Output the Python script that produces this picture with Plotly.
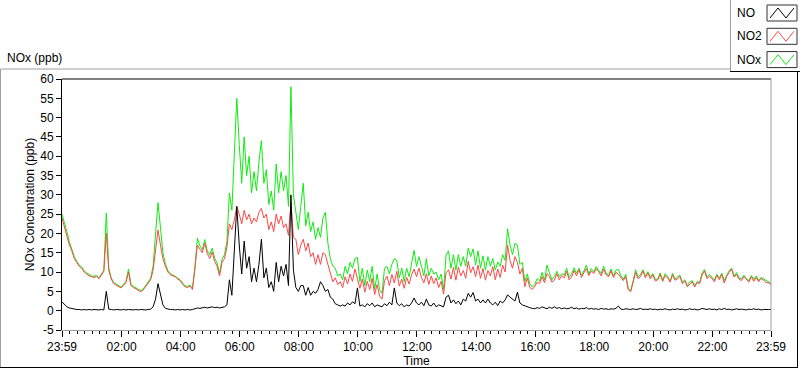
import pandas as pd
import plotly.graph_objects as go

# ---------------- data (5-minute samples, starting 23:59) ----------------
start_time = "2000-01-01 23:59"
n_samples = 289
step = "5min"

no2_ppb = [
    24.0, 21.5, 19.5, 17.0, 15.5, 13.5, 12.5, 11.5, 11.0, 10.0, 9.5, 9.0,
    8.8, 8.6, 8.9, 8.3, 9.2, 10.2, 20.0, 10.5, 8.2, 7.0, 6.6, 6.2,
    5.9, 6.5, 7.3, 10.0, 6.5, 6.0, 5.6, 5.2, 4.9, 5.4, 6.3, 7.0,
    8.0, 10.5, 16.0, 20.9, 17.0, 13.5, 11.5, 10.0, 9.3, 9.0, 8.8, 8.2,
    7.8, 6.8, 6.2, 6.0, 6.4, 5.5, 10.5, 17.0, 16.0, 15.0, 17.5, 14.8,
    13.5, 15.2, 12.8, 11.5, 9.0, 12.5, 13.5, 16.5, 22.5, 21.0, 23.5, 27.0,
    25.0, 22.5, 26.0, 23.5, 25.0, 22.5, 24.0, 23.0, 25.5, 26.5, 24.0, 25.0,
    21.0, 23.0, 20.5, 25.0, 22.5, 24.5, 21.5, 22.5, 19.5, 28.0, 19.0, 18.5,
    14.5, 17.0, 18.5, 15.5, 17.5, 14.0, 15.0, 12.0, 14.5, 12.0, 15.0, 14.5,
    12.0, 9.5, 7.5, 8.5, 6.8, 7.5, 6.0, 8.8, 6.9, 9.5, 7.6, 10.8,
    8.5, 5.8, 8.2, 4.8, 7.6, 5.5, 8.4, 4.2, 6.8, 3.8, 3.0, 7.8,
    8.9, 6.5, 9.4, 7.2, 10.2, 6.4, 8.2, 5.8, 8.6, 6.9, 9.3, 10.8,
    8.8, 11.0, 8.6, 7.2, 9.6, 6.8, 9.0, 7.0, 8.5, 6.0, 7.6, 4.3,
    9.8, 10.6, 8.2, 11.2, 7.9, 11.3, 9.0, 10.4, 8.4, 12.8, 9.8, 11.4,
    8.8, 11.8, 8.4, 10.9, 7.9, 10.4, 9.0, 11.4, 8.0, 10.8, 8.6, 11.8,
    10.0, 17.0, 13.0, 11.0, 14.0, 12.5, 9.5, 11.0, 6.2, 8.5, 6.0, 5.5,
    6.2, 7.4, 7.0, 8.8, 7.2, 9.6, 8.9, 7.4, 7.9, 9.6, 8.0, 9.1,
    8.5, 10.2, 8.0, 8.7, 10.4, 9.0, 10.6, 8.6, 9.8, 10.9, 9.1, 10.3,
    9.6, 10.9, 10.1, 9.0, 10.8, 9.3, 8.8, 10.3, 8.6, 9.9, 9.5, 8.7,
    7.8, 8.9, 5.4, 4.9, 7.2, 9.9, 8.3, 8.8, 10.3, 8.5, 9.8, 8.2,
    9.3, 7.7, 8.0, 9.4, 7.6, 9.1, 8.6, 7.4, 9.3, 7.9, 8.2, 8.9,
    7.0, 7.8, 6.2, 6.9, 7.5, 6.1, 7.3, 7.0, 9.2, 10.3, 8.3, 8.9,
    8.4, 7.5, 9.2, 8.0, 9.4, 7.2, 8.9, 9.9, 10.8, 8.7, 9.4, 8.2,
    7.8, 8.9, 8.1, 7.4, 8.8, 7.6, 8.6, 7.5, 8.4, 7.9, 7.3, 7.2,
    6.8,
]

no_ppb = [
    2.3, 1.6, 1.0, 0.7, 0.5, 0.4, 0.3, 0.3, 0.2, 0.3, 0.2, 0.3,
    0.2, 0.3, 0.2, 0.2, 0.3, 0.2, 5.0, 0.4, 0.3, 0.2, 0.3, 0.2,
    0.2, 0.3, 0.2, 0.3, 0.2, 0.2, 0.3, 0.2, 0.3, 0.2, 0.2, 0.3,
    0.4, 1.0, 3.0, 7.0, 4.5, 1.5, 0.6, 0.4, 0.3, 0.3, 0.2, 0.3,
    0.2, 0.3, 0.2, 0.3, 0.2, 0.3, 0.5, 0.7, 0.6, 0.8, 0.9, 0.7,
    0.9, 1.0, 0.8, 0.9, 0.7, 0.8, 1.0, 1.5, 8.0, 4.0, 15.0, 27.0,
    17.0, 9.5, 18.0, 11.0, 14.0, 7.5, 11.0, 7.5, 12.0, 18.5, 8.5, 11.0,
    6.0, 7.5, 5.0, 12.5, 7.5, 11.5, 9.0, 12.0, 6.5, 30.0, 10.5, 6.0,
    5.0, 6.5, 6.5, 4.0, 6.0, 4.0, 5.0, 4.5, 5.5, 7.5, 6.5, 5.0,
    5.5, 3.5, 3.0, 1.8, 1.5, 1.2, 1.5, 1.2, 2.0, 1.5, 2.3, 1.8,
    5.9, 1.2, 1.5, 1.0, 1.8, 1.3, 2.0, 1.0, 1.5, 1.2, 1.0, 1.8,
    1.3, 2.2, 1.5, 5.9, 2.0, 1.3, 1.8, 1.0, 1.5, 1.2, 2.0, 3.3,
    2.0, 1.5, 2.2, 1.3, 3.0, 1.5, 1.2, 2.0, 1.0, 1.5, 1.2, 1.0,
    3.5, 4.0, 2.0, 2.8, 1.8, 2.5, 1.5, 3.0, 2.5, 4.5, 3.5, 4.7,
    2.5, 3.0, 2.0, 2.8, 2.0, 3.0, 2.0, 1.5, 2.2, 1.3, 2.5, 2.0,
    2.8, 4.1, 3.5, 3.0, 2.5, 4.8, 2.0, 1.5, 1.2, 1.0, 0.8, 0.6,
    0.5, 0.8, 0.6, 1.0, 0.7, 0.5, 0.9, 0.6, 1.0, 0.6, 0.8, 0.5,
    0.7, 0.5, 0.6, 0.9, 0.5, 0.7, 0.4, 0.6, 0.5, 0.8, 0.4, 0.6,
    0.4, 0.5, 0.3, 0.6, 0.4, 0.5, 0.3, 0.5, 0.4, 0.6, 1.2, 0.4,
    0.3, 0.5, 0.4, 0.3, 0.5, 0.3, 0.4, 0.6, 0.3, 0.4, 0.3, 0.5,
    0.3, 0.4, 0.2, 0.4, 0.3, 0.5, 0.3, 0.2, 0.4, 0.3, 0.5, 0.3,
    0.4, 0.2, 0.3, 0.5, 0.3, 0.4, 0.2, 0.3, 0.6, 0.4, 0.3, 0.5,
    0.3, 0.4, 0.2, 0.5, 0.3, 0.6, 0.3, 0.4, 0.2, 0.3, 0.5, 0.3,
    0.4, 0.3, 0.2, 0.4, 0.3, 0.5, 0.3, 0.4, 0.2, 0.3, 0.4, 0.3,
    0.3,
]

nox_ppb = [
    25.0, 23.0, 20.5, 17.8, 16.0, 14.0, 12.8, 11.8, 11.3, 10.3, 9.8, 9.3,
    9.0, 8.9, 9.1, 8.5, 9.5, 10.5, 25.3, 11.0, 8.5, 7.3, 6.9, 6.4,
    6.1, 6.8, 7.6, 10.8, 6.8, 6.3, 5.9, 5.4, 5.2, 5.6, 6.5, 7.3,
    8.4, 11.5, 19.0, 28.0, 21.5, 15.0, 12.1, 10.4, 9.6, 9.3, 9.0, 8.5,
    8.0, 7.1, 6.4, 6.3, 6.6, 5.8, 11.0, 18.8, 16.8, 15.8, 18.4, 15.5,
    14.4, 16.2, 13.6, 12.4, 9.7, 13.3, 14.5, 18.0, 30.5, 26.0, 39.0, 55.0,
    43.0, 33.0, 45.0, 35.0, 40.0, 30.5, 36.0, 31.0, 38.5, 44.0, 33.0, 36.5,
    27.5, 31.0, 26.0, 38.0, 30.5, 36.0, 31.0, 35.0, 27.0, 58.0, 30.0, 25.0,
    21.0, 27.0, 33.0, 22.0, 25.5, 20.5, 23.0, 18.5, 21.5, 19.0, 24.0, 25.5,
    17.5, 13.5, 11.5, 11.0, 9.0, 9.5, 8.0, 11.5, 9.5, 12.5, 11.0, 13.5,
    13.8, 7.5, 11.0, 6.5, 10.5, 7.5, 11.5, 5.5, 9.5, 5.5, 4.5, 11.0,
    11.5, 9.5, 12.0, 13.5, 13.0, 8.5, 11.0, 7.5, 11.0, 8.8, 12.5, 15.6,
    11.5, 14.0, 11.5, 9.0, 13.5, 9.0, 11.0, 9.5, 10.0, 8.0, 9.5, 5.5,
    14.4, 15.5, 11.0, 14.5, 10.5, 14.5, 11.5, 14.0, 11.5, 16.2, 14.0, 16.0,
    11.8, 15.5, 11.0, 14.2, 10.5, 14.0, 11.5, 13.5, 10.5, 12.6, 11.5, 14.5,
    13.0, 21.2, 17.0, 14.5, 17.5, 17.0, 12.0, 12.5, 7.5, 9.5, 7.0, 6.1,
    6.8, 8.3, 7.7, 9.9, 7.9, 11.8, 9.8, 8.0, 8.9, 10.2, 8.8, 9.6,
    9.2, 11.0, 8.6, 9.6, 11.1, 9.7, 11.0, 9.2, 10.3, 11.8, 9.5, 10.9,
    10.0, 11.4, 10.4, 9.6, 11.5, 9.8, 9.1, 10.8, 9.0, 10.5, 10.7, 9.1,
    8.1, 9.4, 5.8, 5.2, 7.7, 10.6, 8.7, 9.4, 10.6, 8.9, 10.1, 8.7,
    9.6, 8.1, 8.2, 9.8, 7.9, 9.6, 8.9, 7.6, 9.7, 8.2, 8.7, 9.2,
    7.4, 8.0, 6.5, 7.4, 7.8, 6.5, 7.5, 7.3, 9.8, 10.7, 8.6, 9.4,
    8.7, 7.9, 9.4, 8.5, 9.7, 7.8, 9.2, 10.3, 11.0, 9.0, 9.9, 8.5,
    8.2, 9.2, 8.3, 7.8, 9.1, 8.1, 9.0, 7.9, 8.6, 8.2, 7.7, 7.5,
    7.1,
]

x_tick_times = [
    "2000-01-01 23:59", "2000-01-02 02:00", "2000-01-02 04:00", "2000-01-02 06:00",
    "2000-01-02 08:00", "2000-01-02 10:00", "2000-01-02 12:00", "2000-01-02 14:00",
    "2000-01-02 16:00", "2000-01-02 18:00", "2000-01-02 20:00", "2000-01-02 22:00",
    "2000-01-02 23:59",
]
x_tick_labels = ["23:59", "02:00", "04:00", "06:00", "08:00", "10:00", "12:00",
                 "14:00", "16:00", "18:00", "20:00", "22:00", "23:59"]
y_tick_values = [-5, 0, 5, 10, 15, 20, 25, 30, 35, 40, 45, 50, 55, 60]
y_tick_labels = ["-5", "0", "5", "10", "15", "20", "25", "30", "35", "40",
                 "45", "50", "55", "60"]
series_names = ["NO", "NO2", "NOx"]

# ---------------- figure ----------------
times = pd.date_range(start_time, periods=n_samples, freq=step)

W, H = 800, 369
L, R, T, B = 62, 771, 79, 330   # plot area in pixels
FONT = "Liberation Sans"
GREEN = "#10ec10"
RED = "#ff4646"
BLACK = "#000000"


def px(xp):
    return (xp - L) / (R - L)


def py(yp):
    return (B - yp) / (B - T)


fig = go.Figure()
fig.add_trace(go.Scatter(x=times, y=nox_ppb, mode="lines", name=series_names[2],
                         line=dict(color=GREEN, width=1)))
fig.add_trace(go.Scatter(x=times, y=no2_ppb, mode="lines", name=series_names[1],
                         line=dict(color=RED, width=1)))
fig.add_trace(go.Scatter(x=times, y=no_ppb, mode="lines", name=series_names[0],
                         line=dict(color=BLACK, width=1)))

shapes = []


def line(x0, y0, x1, y1, color, width=1):
    shapes.append(dict(type="line", xref="paper", yref="paper",
                       x0=px(x0), y0=py(y0), x1=px(x1), y1=py(y1),
                       line=dict(color=color, width=width), layer="above"))


# plot area border (top / right)
line(L, T, R, T, "#000000")
line(R, T, R, B, "#a0a0a0")
# outer frame
line(0.5, 69, 730, 69, "#a0a0a0")
line(0.5, 69, 0.5, 367, "#a0a0a0")
line(0, 367.5, 797, 367.5, "#000000")
line(797.5, 71, 797.5, 368, "#000000")
# legend frame
line(730.5, 0, 730.5, 71, "#a0a0a0")
line(730, 71.5, 800, 71.5, "#000000")

annotations = []
legend_colors = [BLACK, RED, GREEN]
for i, (name, col) in enumerate(zip(series_names, legend_colors)):
    cy = 13 + i * 23.3
    annotations.append(dict(text=name, xref="paper", yref="paper", x=px(735),
                            y=py(cy), xanchor="left", yanchor="middle",
                            showarrow=False,
                            font=dict(family=FONT, size=12, color="#000000")))
    bx0, bx1 = 767, 797
    by0, by1 = cy - 8, cy + 8
    shapes.append(dict(type="rect", xref="paper", yref="paper",
                       x0=px(bx0), x1=px(bx1), y0=py(by1), y1=py(by0),
                       line=dict(color="#303030", width=1),
                       fillcolor="white", layer="above"))
    pts = [(bx0 + 3, by1 - 3), (bx0 + 11, by0 + 3), (bx0 + 19, by1 - 3),
           (bx1 - 3, by0 + 3)]
    path = "M " + " L ".join(f"{px(a):.5f},{py(b):.5f}" for a, b in pts)
    shapes.append(dict(type="path", xref="paper", yref="paper", path=path,
                       line=dict(color=col, width=1), layer="above"))

annotations.append(dict(text="NOx (ppb)", xref="paper", yref="paper",
                        x=px(5), y=py(58), xanchor="left", yanchor="middle",
                        showarrow=False,
                        font=dict(family=FONT, size=12, color="#000000")))

fig.update_layout(
    width=W, height=H,
    margin=dict(l=L, r=W - R, t=T, b=H - B, autoexpand=False),
    paper_bgcolor="white", plot_bgcolor="white",
    showlegend=False,
    font=dict(family=FONT, size=12, color="#000000"),
    shapes=shapes, annotations=annotations,
    xaxis=dict(
        type="date",
        range=[x_tick_times[0], x_tick_times[-1]],
        tickmode="array", tickvals=x_tick_times, ticktext=x_tick_labels,
        ticks="outside", ticklen=6, tickcolor="#000000", tickwidth=1,
        minor=dict(ticks="outside", ticklen=3, tickcolor="#000000",
                   tick0="2000-01-02 00:00", dtick=15 * 60 * 1000),
        showline=True, linecolor="#a0a0a0", linewidth=1,
        showgrid=False, zeroline=False,
        tickfont=dict(family=FONT, size=12, color="#000000"),
        title=dict(text="Time", standoff=2,
                   font=dict(family=FONT, size=12, color="#000000")),
        automargin=False,
    ),
    yaxis=dict(
        range=[-5, 60],
        tickmode="array", tickvals=y_tick_values, ticktext=y_tick_labels,
        ticks="outside", ticklen=5, tickcolor="#000000",
        showline=True, linecolor="#000000", linewidth=1,
        showgrid=False, zeroline=False,
        tickfont=dict(family=FONT, size=12, color="#000000"),
        title=dict(text="NOx Concentration (ppb)", standoff=3,
                   font=dict(family=FONT, size=12, color="#000000")),
        automargin=False,
    ),
)

fig.write_html("out.html",
               config={"displayModeBar": False},
               post_script="document.body.style.margin='0px';"
                           "document.body.style.overflow='hidden';")
